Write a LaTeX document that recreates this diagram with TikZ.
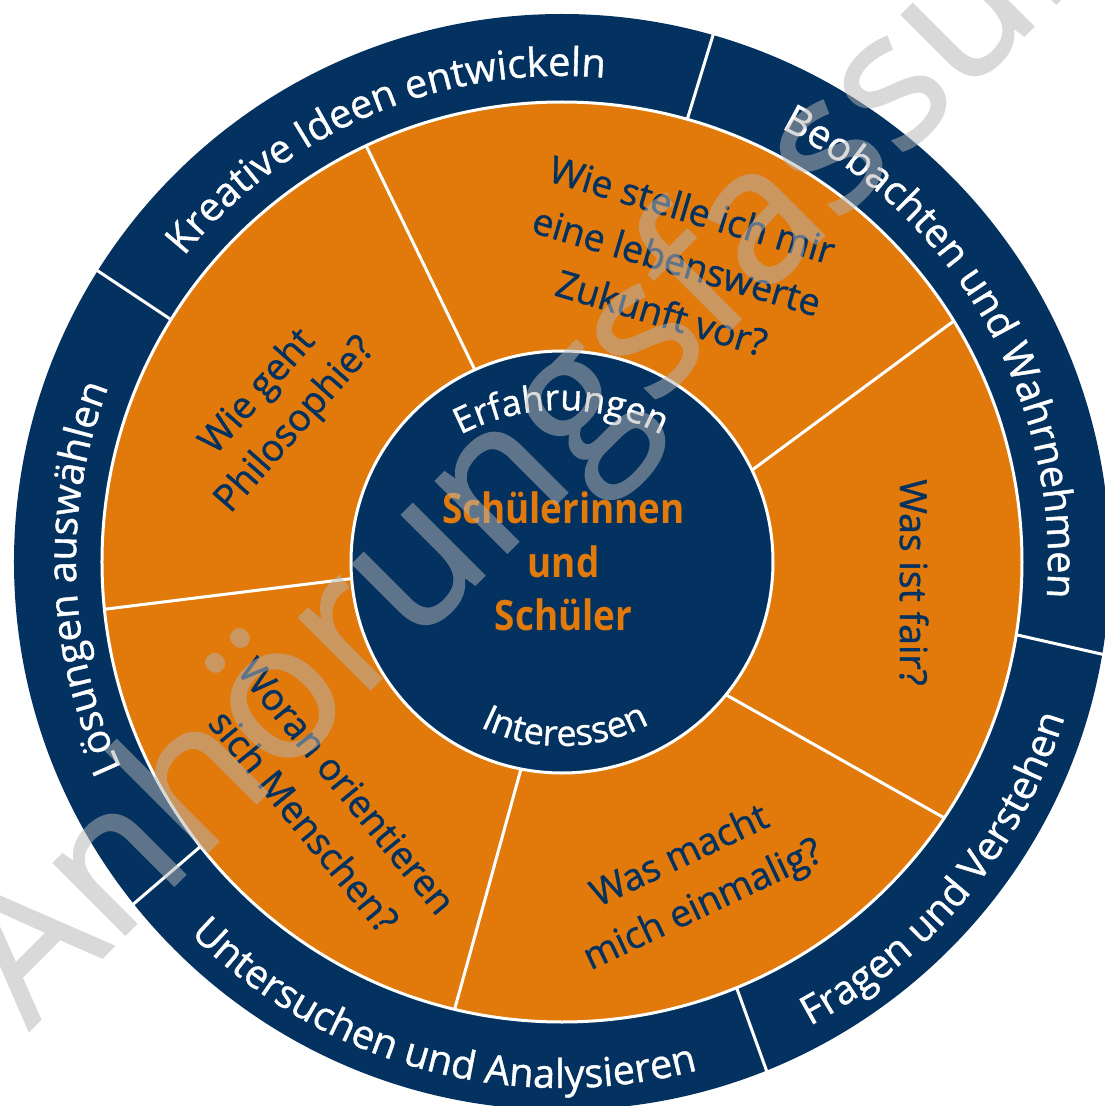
\documentclass[tikz,border=0pt]{standalone}
\usepackage{fontspec}
\setmainfont{Open Sans}
\newfontfamily\centerfamily[FakeStretch=0.88]{Open Sans}
\newfontfamily\txtfamily[FakeBold=1.0]{Open Sans}
\newfontfamily\wmfamily[FakeBold=1.0]{Open Sans}
\usetikzlibrary{decorations.text}
\definecolor{navyblue}{RGB}{4,50,96}
\definecolor{orangefill}{RGB}{225,121,11}
\definecolor{wmgray}{RGB}{181,181,181}
\newcommand{\ringtxt}{\txtfamily\fontsize{40}{48}\selectfont}
\newcommand{\innertxt}{\txtfamily\fontsize{36}{44}\selectfont}
\tikzset{
  divider/.style={white, line width=3bp},
  question/.style={text=navyblue, align=center, inner sep=0pt},
  ringlabel/.style={decorate, decoration={text along path, text align=center, text color=white, text={|\ringtxt|#1}}},
  innerlabel/.style={decorate, decoration={text along path, text align=center, text color=white, text={|\innertxt|#1}}}
}
\begin{document}
\begin{tikzpicture}[x=1bp,y=1bp]
\useasboundingbox (-562,-544) rectangle (543,562);
\fill[white] (-562,-544) rectangle (543,562);
% rings
\fill[navyblue] (0,0) circle[radius=548];
\fill[orangefill] (0,0) circle[radius=460];
% orange sector dividers
\draw[divider] (114.4:211) -- (115.2:460);
\draw[divider] (25.8:211) -- (31.6:460);
\draw[divider] (-39.0:211) -- (-33.8:460);
\draw[divider] (258.8:211) -- (256.5:460);
\draw[divider] (184.5:211) -- (185.9:460);
% inner disk
\fill[navyblue] (0,0) circle[radius=211];
\draw[divider] (0,0) circle[radius=211];
\draw[divider] (0,0) circle[radius=460];
% outer ring dividers
\draw[divider] (74.2:460) -- (74.0:550);
\draw[divider] (148.2:460) -- (147.9:550);
\draw[divider] (218.2:460) -- (218.6:550);
\draw[divider] (292.3:460) -- (291.9:550);
\draw[divider] (350.9:460) -- (350.3:550);
% outer ring labels
\path[ringlabel={Kreative Ideen entwickeln}] (158:486) arc[start angle=158, end angle=68, radius=486];
\path[ringlabel={Beobachten und Wahrnehmen}] (80:486) arc[start angle=80, end angle=-21, radius=486];
\path[ringlabel={Lösungen auswählen}] (227:486) arc[start angle=227, end angle=137, radius=486];
\path[ringlabel={Untersuchen und Analysieren}] (205:526) arc[start angle=205, end angle=305, radius=526];
\path[ringlabel={Fragen und Verstehen}] (275:526) arc[start angle=275, end angle=366, radius=526];
% inner labels
\path[shift={(-1,-64)}, innerlabel={Erfahrungen}] (130:216) arc[start angle=130, end angle=50, radius=216];
\path[innerlabel={Interessen}] (226:184) arc[start angle=226, end angle=316, radius=184];
% centre
\node[text=orangefill, align=center, inner sep=0pt, font=\centerfamily\bfseries\fontsize{42}{53.5}\selectfont] (centre) at (1.5,0.5) {Schülerinnen\\und\\Schüler};
% questions
\node[question, font=\txtfamily\fontsize{37.5}{54}\selectfont, rotate=-16.5] (q1) at (115,301) {Wie stelle ich mir\\eine lebenswerte\\Zukunft vor?};
\node[question, font=\txtfamily\fontsize{37.5}{50}\selectfont, rotate=48.5] (q2) at (-285,153) {Wie geht\\Philosophie?};
\node[question, font=\txtfamily\fontsize{37.5}{54}\selectfont, rotate=-90] (q3) at (352,-20.5) {Was ist fair?};
\node[question, font=\txtfamily\fontsize{37.5}{54}\selectfont, rotate=25.3] (q4) at (130,-320) {Was macht\\mich einmalig?};
\node[question, font=\txtfamily\fontsize{37.5}{56}\selectfont, rotate=-50.7] (q5) at (-236.5,-241.5) {Woran orientieren\\sich Menschen?};
% watermark
\begin{scope}[transparency group, opacity=0.51]
\node[font=\wmfamily\fontsize{190}{200}\selectfont, text=wmgray, rotate=45, anchor=base west, inner sep=0pt] (wm) at (-533,-469) {Anhörungsfassung};
\end{scope}
\end{tikzpicture}
\end{document}
